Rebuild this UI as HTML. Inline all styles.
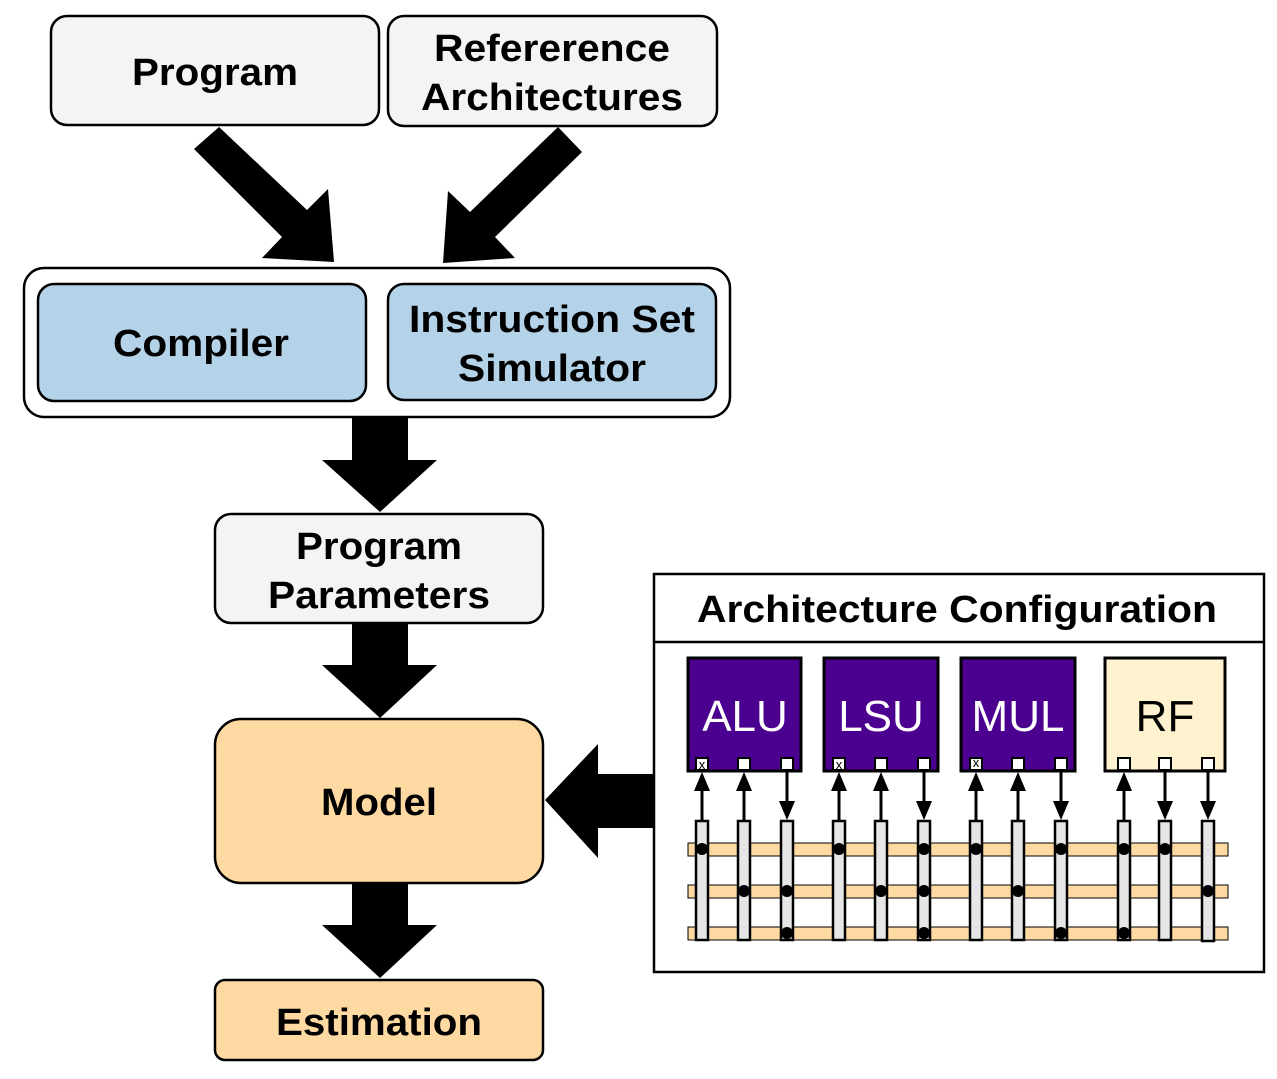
<!DOCTYPE html>
<html><head><meta charset="utf-8"><style>html,body{margin:0;padding:0;background:#fff}svg{display:block}</style></head>
<body>
<svg width="1277" height="1079" viewBox="0 0 1277 1079" xmlns="http://www.w3.org/2000/svg" font-family="Liberation Sans, sans-serif">
<g stroke="#000" stroke-width="2.5">
<rect x="51" y="16" width="328" height="109" rx="16" fill="#f4f4f4"/>
<rect x="388" y="16" width="329" height="110" rx="16" fill="#f4f4f4"/>
<rect x="24" y="268" width="706" height="149" rx="20" fill="#fff"/>
<rect x="38" y="284" width="328" height="117" rx="16" fill="#b4d3e9"/>
<rect x="388" y="284" width="328" height="116" rx="16" fill="#b4d3e9"/>
<rect x="215" y="514" width="328" height="109" rx="16" fill="#f4f4f4"/>
<rect x="215" y="719" width="328" height="164" rx="26" fill="#fed9a2"/>
<rect x="215" y="980" width="328" height="80" rx="10" fill="#fed9a2"/>
</g>
<g fill="#000">
<polygon points="219,127 307,210 328,189 334,262 262,258 282,237 194,149"/>
<polygon points="558,127 582,152 495,237 515,258 443,263 448,191 470,212"/>
<polygon points="352,418 408,418 408,460 437,460 380,512 322,460 352,460"/>
<polygon points="352,624 408,624 408,665 437,665 380,718 322,665 352,665"/>
<polygon points="352,884 408,884 408,925 437,925 380,978 322,925 352,925"/>
<polygon points="655,774 655,828 598,828 598,858 545,800 598,744 598,774"/>
</g>
<g font-weight="bold" font-size="38" text-anchor="middle" fill="#000">
<text x="215" y="85" textLength="166" lengthAdjust="spacingAndGlyphs">Program</text>
<text x="552" y="61" textLength="236" lengthAdjust="spacingAndGlyphs">Refererence</text>
<text x="552" y="110" textLength="262" lengthAdjust="spacingAndGlyphs">Architectures</text>
<text x="201" y="356" textLength="176" lengthAdjust="spacingAndGlyphs">Compiler</text>
<text x="552" y="332" textLength="286" lengthAdjust="spacingAndGlyphs">Instruction Set</text>
<text x="552" y="381" textLength="188" lengthAdjust="spacingAndGlyphs">Simulator</text>
<text x="379" y="559" textLength="166" lengthAdjust="spacingAndGlyphs">Program</text>
<text x="379" y="608" textLength="222" lengthAdjust="spacingAndGlyphs">Parameters</text>
<text x="379" y="815" textLength="116" lengthAdjust="spacingAndGlyphs">Model</text>
<text x="379" y="1035" textLength="206" lengthAdjust="spacingAndGlyphs">Estimation</text>
<text x="957" y="622" textLength="520" lengthAdjust="spacingAndGlyphs">Architecture Configuration</text>
</g>
<rect x="654" y="574" width="610" height="398" fill="none" stroke="#000" stroke-width="2.5"/>
<line x1="654" y1="642" x2="1264" y2="642" stroke="#000" stroke-width="2.5"/>
<!-- units -->
<g stroke="#000" stroke-width="3">
<rect x="688" y="658" width="113" height="113" fill="#4b0090"/>
<rect x="824" y="658" width="114" height="113" fill="#4b0090"/>
<rect x="961" y="658" width="114" height="113" fill="#4b0090"/>
<rect x="1105" y="658" width="120" height="113" fill="#fff2cf"/>
</g>
<g font-size="44" text-anchor="middle">
<text x="745" y="731" fill="#fff">ALU</text>
<text x="881" y="731" fill="#fff">LSU</text>
<text x="1018" y="731" fill="#fff">MUL</text>
<text x="1165" y="731" fill="#000">RF</text>
</g>
<!-- horizontal bars -->
<g fill="#fed9a2" stroke="#000" stroke-width="1">
<rect x="688" y="843" width="540" height="13"/>
<rect x="688" y="885" width="540" height="13"/>
<rect x="688" y="927" width="540" height="13"/>
</g>
<!-- ports, arrows, vertical bars -->
<g id="cols" stroke="#000">
<!-- generated below manually -->
</g>
<g stroke="#000" stroke-width="2.5" fill="#e6e6e6">
<rect x="696" y="821" width="12" height="119"/><rect x="738" y="821" width="12" height="119"/><rect x="781" y="821" width="12" height="119"/>
<rect x="833" y="821" width="12" height="119"/><rect x="875" y="821" width="12" height="119"/><rect x="918" y="821" width="12" height="119"/>
<rect x="970" y="821" width="12" height="119"/><rect x="1012" y="821" width="12" height="119"/><rect x="1055" y="821" width="12" height="119"/>
<rect x="1118" y="821" width="12" height="119"/><rect x="1159" y="821" width="12" height="119"/><rect x="1202" y="821" width="12" height="120"/>
</g>
<g fill="#000">
<circle cx="702" cy="849" r="6"/>
<circle cx="744" cy="891" r="6"/>
<circle cx="787" cy="891" r="6"/><circle cx="787" cy="933" r="6"/>
<circle cx="839" cy="849" r="6"/>
<circle cx="881" cy="891" r="6"/>
<circle cx="924" cy="849" r="6"/><circle cx="924" cy="891" r="6"/><circle cx="924" cy="933" r="6"/>
<circle cx="976" cy="849" r="6"/>
<circle cx="1018" cy="891" r="6"/>
<circle cx="1061" cy="849" r="6"/><circle cx="1061" cy="933" r="6"/>
<circle cx="1124" cy="849" r="6"/><circle cx="1124" cy="933" r="6"/>
<circle cx="1165" cy="849" r="6"/>
<circle cx="1208" cy="891" r="6"/>
</g>
<!-- arrows: up at 702,744,839,881,976,1018,1124 ; down at 787,924,1061,1165,1208 -->
<g stroke="#000" stroke-width="3">
<line x1="702" y1="821" x2="702" y2="790"/><line x1="744" y1="821" x2="744" y2="790"/>
<line x1="839" y1="821" x2="839" y2="790"/><line x1="881" y1="821" x2="881" y2="790"/>
<line x1="976" y1="821" x2="976" y2="790"/><line x1="1018" y1="821" x2="1018" y2="790"/>
<line x1="1124" y1="821" x2="1124" y2="790"/>
<line x1="787" y1="771" x2="787" y2="803"/><line x1="924" y1="771" x2="924" y2="803"/>
<line x1="1061" y1="771" x2="1061" y2="803"/><line x1="1165" y1="771" x2="1165" y2="803"/>
<line x1="1208" y1="771" x2="1208" y2="803"/>
</g>
<g fill="#000">
<polygon points="702,772 694,791 710,791"/><polygon points="744,772 736,791 752,791"/>
<polygon points="839,772 831,791 847,791"/><polygon points="881,772 873,791 889,791"/>
<polygon points="976,772 968,791 984,791"/><polygon points="1018,772 1010,791 1026,791"/>
<polygon points="1124,772 1116,791 1132,791"/>
<polygon points="787,820 779,801 795,801"/><polygon points="924,820 916,801 932,801"/>
<polygon points="1061,820 1053,801 1069,801"/><polygon points="1165,820 1157,801 1173,801"/>
<polygon points="1208,820 1200,801 1216,801"/>
</g>
<g fill="#fff" stroke="#000" stroke-width="2">
<rect x="696" y="758" width="12" height="12"/><rect x="738" y="758" width="12" height="12"/><rect x="781" y="758" width="12" height="12"/>
<rect x="833" y="758" width="12" height="12"/><rect x="875" y="758" width="12" height="12"/><rect x="918" y="758" width="12" height="12"/>
<rect x="970" y="758" width="12" height="12"/><rect x="1012" y="758" width="12" height="12"/><rect x="1055" y="758" width="12" height="12"/>
<rect x="1118" y="758" width="12" height="12"/><rect x="1159" y="758" width="12" height="12"/><rect x="1202" y="758" width="12" height="12"/>
</g>
<g font-size="13" text-anchor="middle" fill="#000">
<text x="702" y="769">x</text><text x="839" y="769">x</text><text x="976" y="767">x</text>
</g>
</svg>
</body></html>
